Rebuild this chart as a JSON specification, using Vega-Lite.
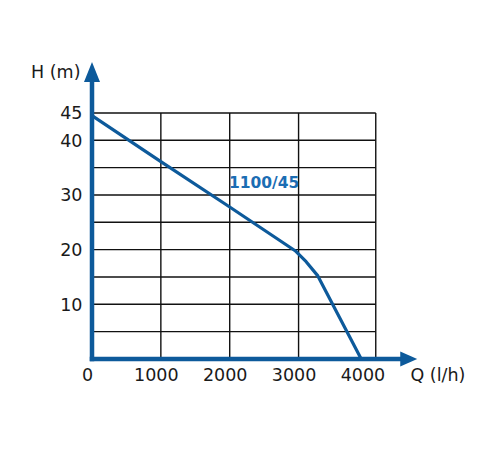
{
  "$schema": "https://vega.github.io/schema/vega-lite/v6.json",
  "autosize": {"type": "none"},
  "padding": {"left": 92, "top": 61, "right": 83, "bottom": 91},
  "width": 325,
  "height": 298,
  "background": "white",
  "config": {"view": {"stroke": null}, "font": "DejaVu Sans"},
  "datasets": {
    "grid": [
      {"Q": 0, "Q2": 4121, "H": 5, "H2": 5},
      {"Q": 0, "Q2": 4121, "H": 10, "H2": 10},
      {"Q": 0, "Q2": 4121, "H": 15, "H2": 15},
      {"Q": 0, "Q2": 4121, "H": 20, "H2": 20},
      {"Q": 0, "Q2": 4121, "H": 25, "H2": 25},
      {"Q": 0, "Q2": 4121, "H": 30, "H2": 30},
      {"Q": 0, "Q2": 4121, "H": 35, "H2": 35},
      {"Q": 0, "Q2": 4121, "H": 40, "H2": 40},
      {"Q": 0, "Q2": 4121, "H": 45, "H2": 45},
      {"Q": 1000, "Q2": 1000, "H": 0, "H2": 45},
      {"Q": 2000, "Q2": 2000, "H": 0, "H2": 45},
      {"Q": 3000, "Q2": 3000, "H": 0, "H2": 45},
      {"Q": 4121, "Q2": 4121, "H": 0, "H2": 45}
    ],
    "curve": [
      {"Q": 0, "H": 44.5},
      {"Q": 1000, "H": 36.1},
      {"Q": 2000, "H": 27.8},
      {"Q": 2950, "H": 19.8},
      {"Q": 3110, "H": 17.8},
      {"Q": 3280, "H": 15.2},
      {"Q": 3910, "H": 0}
    ],
    "axes": [
      {"Q": 0, "Q2": 0, "H": 0, "H2": 52.5},
      {"Q": 0, "Q2": 4600, "H": 0, "H2": 0}
    ],
    "arrows": [
      {"Q": 0, "H": 52.5, "dir": "up"},
      {"Q": 4600, "H": 0, "dir": "right"}
    ],
    "labels": [
      {"Q": 2500, "H": 32.1, "text": "1100/45"}
    ]
  },
  "encoding": {
    "x": {
      "field": "Q",
      "type": "quantitative",
      "scale": {"domain": [0, 4720], "nice": false, "zero": false},
      "axis": {
        "values": [0, 1000, 2000, 3000, 4000],
        "format": "d",
        "domain": false,
        "ticks": false,
        "grid": false,
        "labelFontSize": 17.5,
        "labelColor": "#1a1a1a",
        "labelPadding": 7,
        "labelOffset": -5,
        "labelOverlap": false,
        "labelFlush": false,
        "title": "Q (l/h)",
        "titleFontSize": 17.5,
        "titleFontWeight": "normal",
        "titleColor": "#1a1a1a",
        "titleAngle": 0,
        "titleAlign": "left",
        "titleBaseline": "alphabetic",
        "titleAnchor": null,
        "titleX": 318,
        "titleY": 21
      }
    },
    "y": {
      "field": "H",
      "type": "quantitative",
      "scale": {"domain": [0, 54.5], "nice": false, "zero": false},
      "axis": {
        "values": [10, 20, 30, 40, 45],
        "format": "d",
        "domain": false,
        "ticks": false,
        "grid": false,
        "labelFontSize": 17.5,
        "labelColor": "#1a1a1a",
        "labelPadding": 10,
        "labelOffset": 1,
        "labelOverlap": false,
        "labelFlush": false,
        "title": "H (m)",
        "titleFontSize": 17.5,
        "titleFontWeight": "normal",
        "titleColor": "#1a1a1a",
        "titleAngle": 0,
        "titleAlign": "right",
        "titleBaseline": "alphabetic",
        "titleAnchor": null,
        "titleX": -12,
        "titleY": 16
      }
    }
  },
  "layer": [
    {
      "data": {"name": "grid"},
      "mark": {"type": "rule", "color": "#111111", "strokeWidth": 1.4},
      "encoding": {
        "x2": {"field": "Q2"},
        "y2": {"field": "H2"}
      }
    },
    {
      "data": {"name": "curve"},
      "mark": {"type": "line", "color": "#0d5a9b", "strokeWidth": 3.2, "strokeJoin": "round"},
      "encoding": {}
    },
    {
      "data": {"name": "axes"},
      "mark": {"type": "rule", "color": "#0d5a9b", "strokeWidth": 4.5, "strokeCap": "square"},
      "encoding": {
        "x2": {"field": "Q2"},
        "y2": {"field": "H2"}
      }
    },
    {
      "data": {"name": "arrows"},
      "mark": {"type": "point", "filled": true, "opacity": 1, "color": "#0d5a9b", "strokeWidth": 0},
      "encoding": {
        "shape": {
          "field": "dir",
          "type": "nominal",
          "scale": {"domain": ["up", "right"], "range": ["M0,-1L0.8,1L-0.8,1Z", "M1,0L-1,-0.88L-1,0.88Z"]},
          "legend": null
        },
        "size": {
          "field": "dir",
          "type": "nominal",
          "scale": {"domain": ["up", "right"], "range": [400, 289]},
          "legend": null
        }
      }
    },
    {
      "data": {"name": "labels"},
      "mark": {"type": "text", "color": "#1b6db3", "fontSize": 15.5, "fontWeight": "bold", "font": "DejaVu Sans", "baseline": "middle", "align": "center"},
      "encoding": {
        "text": {"field": "text"}
      }
    }
  ]
}
